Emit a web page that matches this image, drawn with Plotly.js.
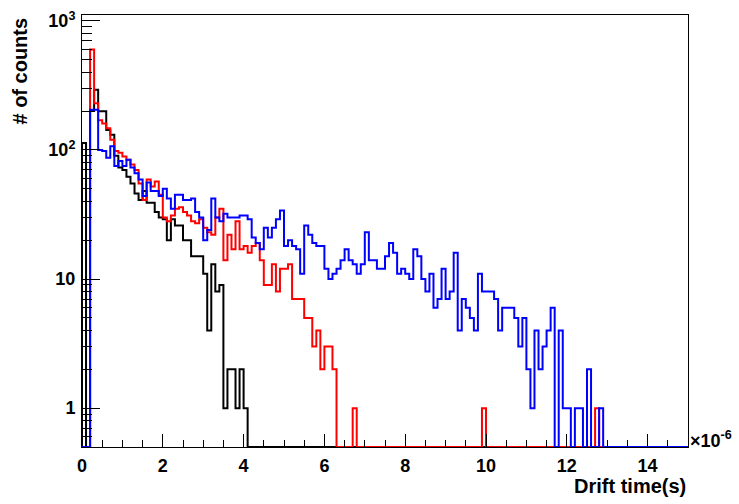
<!DOCTYPE html>
<html>
<head>
<meta charset="utf-8">
<script src="https://cdn.plot.ly/plotly-3.0.1.min.js"></script>
<style>html,body{margin:0;padding:0;background:#fff;}#chart{width:739px;height:504px;}</style>
</head>
<body>
<div id="chart"></div>
<script>
// Histogram definition: 150 bins from 0 to 15 (x 10^-6 s)
const nBins = 150;
const xMin = 0;
const xMax = 15;

// Counts per bin (bin k covers [k*0.1, (k+1)*0.1) us)
const countsBlack = [
  113,0,200,292,199,199,143,131,90,73,
  70,62,55,46,41,48,39,39,33,30,
  29,20,29,26,26,20,20,15,15,15,
  11,4,13,8,9,1,2,2,1,2,
  1,0,0,0,0,0,0,0,0,0,
  0,0,0,0,0,0,0,0,0,0,
  0,0,0,0,0,0,0,0,0,0,
  0,0,0,0,0,0,0,0,0,0,
  0,0,0,0,0,0,0,0,0,0,
  0,0,0,0,0,0,0,0,0,0,
  0,0,0,0,0,0,0,0,0,0,
  0,0,0,0,0,0,0,0,0,0,
  0,0,0,0,0,0,0,0,0,0,
  0,0,0,0,0,0,0,0,0,0,
  0,0,0,0,0,0,0,0,0,0
];
const countsRed = [
  0,0,600,230,170,160,147,120,98,95,
  89,84,77,70,55,41,59,52,57,45,
  30,28,31,35,36,33,31,28,27,29,
  25,23,22,30,35,14,22,17,28,17,
  18,16,18,19,14,9,9,13,8,12,
  12,13,7,7,7,5,5,3,4,2,
  3,3,2,0,0,0,0,1,0,0,
  0,0,0,0,0,0,0,0,0,0,
  0,0,0,0,0,0,0,0,0,0,
  0,0,0,0,0,0,0,0,0,1,
  0,0,0,0,0,0,0,0,0,0,
  0,0,0,0,0,0,0,0,0,0,
  0,0,0,0,0,0,0,1,0,0,
  0,0,0,0,0,0,0,0,0,0,
  0,0,0,0,0,0,0,0,0,0
];
const countsBlue = [
  0,0,205,205,100,98,87,107,75,82,
  75,84,73,66,59,44,56,48,48,44,
  50,42,35,45,45,41,41,42,33,30,
  20,24,42,30,28,32,30,30,30,31,
  31,29,21,19,17,25,21,25,29,34,
  18,20,18,17,11,26,22,19,18,18,
  12,10,11,12,14,17,14,13,11,13,
  23,14,14,12,12,15,19,16,11,12,
  11,10,17,15,10,8,11,6,7,12,
  7,8,16,4,7,6,5,4,11,8,
  8,8,7,4,6,6,6,5,3,5,
  2,1,4,2,3,4,6,0,4,1,
  1,0,1,1,0,2,0,0,1,0,
  0,0,0,0,0,0,0,0,0,0,
  0,0,0,0,0,0,0,0,0,0
];

const yTickVals = [1, 10, 100, 1000];
const yTickText = ['1', '10', '10<sup>2</sup>', '10<sup>3</sup>'];
const xTickLabels = ['0', '2', '4', '6', '8', '10', '12', '14'];

const yMin = 0.5, yMax = 1110;

function stepTrace(counts, color) {
  const w = (xMax - xMin) / nBins;
  const xs = [xMin], ys = [yMin];
  for (let k = 0; k < nBins; k++) {
    xs.push(xMin + k * w);
    ys.push(counts[k] > 0 ? counts[k] : yMin);
  }
  xs.push(xMax);
  ys.push(counts[nBins - 1] > 0 ? counts[nBins - 1] : yMin);
  return {
    x: xs, y: ys, type: 'scatter', mode: 'lines',
    line: {shape: 'hv', color: color, width: 2},
    hoverinfo: 'skip', showlegend: false
  };
}

const minorY = [];
for (let d = -1; d <= 3; d++) {
  for (let m = 2; m <= 9; m++) {
    const v = m * Math.pow(10, d);
    if (v >= yMin && v <= yMax) minorY.push(v);
  }
}

const fontTick = {family: 'Liberation Sans, Arial, sans-serif', size: 18, color: '#000', weight: 'bold'};
const fontTitle = {family: 'Liberation Sans, Arial, sans-serif', size: 20, color: '#000', weight: 'bold'};

const data = [
  stepTrace(countsBlack, '#000000'),
  stepTrace(countsRed, '#ff0000'),
  stepTrace(countsBlue, '#0000ff')
];

const layout = {
  width: 739, height: 504,
  margin: {l: 82, r: 51, t: 15, b: 57},
  paper_bgcolor: '#ffffff', plot_bgcolor: '#ffffff',
  showlegend: false,
  xaxis: {
    range: [xMin, xMax], showgrid: false, zeroline: false,
    showline: true, linecolor: '#000', linewidth: 1, mirror: true,
    tickmode: 'array', tickvals: xTickLabels.map(Number), ticktext: xTickLabels,
    ticks: 'inside', ticklen: 13, tickwidth: 1, tickcolor: '#000',
    minor: {dtick: 0.5, tick0: 0, ticks: 'inside', ticklen: 7, tickwidth: 1, tickcolor: '#000', showgrid: false},
    tickfont: fontTick, ticklabelstandoff: 2
  },
  yaxis: {
    type: 'log', range: [Math.log10(yMin), Math.log10(yMax)],
    showgrid: false, zeroline: false,
    showline: true, linecolor: '#000', linewidth: 1, mirror: true,
    tickmode: 'array', tickvals: yTickVals, ticktext: yTickText,
    ticks: 'inside', ticklen: 18, tickwidth: 1, tickcolor: '#000',
    minor: {tickmode: 'array', tickvals: minorY, ticks: 'inside', ticklen: 10, tickwidth: 1, tickcolor: '#000', showgrid: false},
    tickfont: fontTick, ticklabelstandoff: 2
  },
  annotations: [
    {text: '# of counts', xref: 'paper', yref: 'paper', x: -0.102, y: 0.998,
     xanchor: 'center', yanchor: 'top', textangle: -90, showarrow: false, font: fontTitle},
    {text: 'Drift time(s)', xref: 'paper', yref: 'paper', x: 1.0, y: -0.09,
     xanchor: 'right', yanchor: 'middle', showarrow: false, font: fontTitle},
    {text: '×10<sup>-6</sup>', xref: 'paper', yref: 'paper', x: 1.0, y: 0.018,
     xanchor: 'left', yanchor: 'middle', showarrow: false, font: fontTick}
  ]
};

Plotly.newPlot('chart', data, layout, {staticPlot: true, displayModeBar: false});
</script>
</body>
</html>
